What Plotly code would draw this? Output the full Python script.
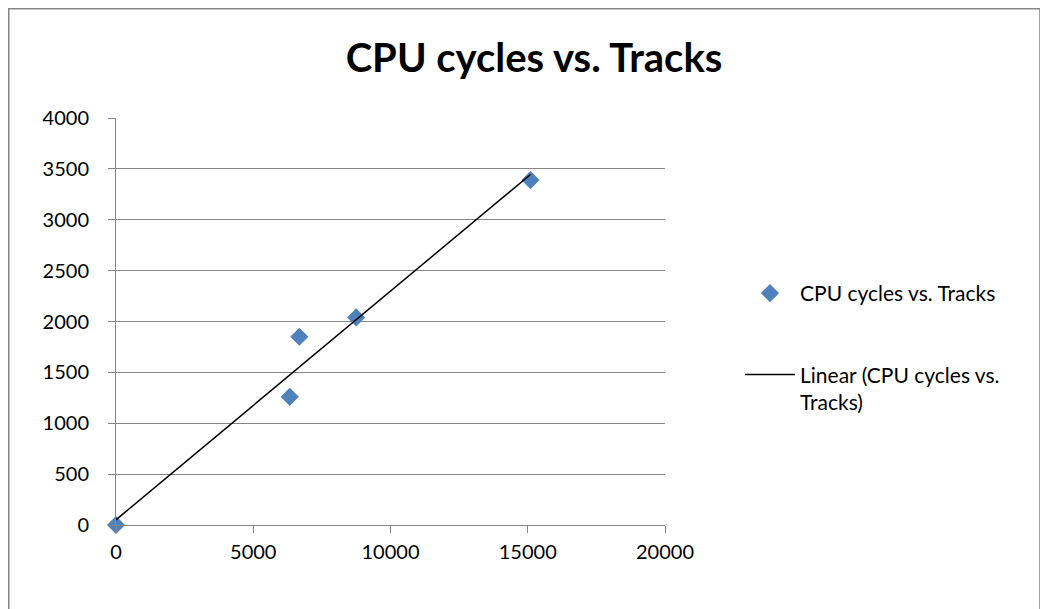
import numpy as np
import plotly.graph_objects as go

# Data
tracks = [0, 6330, 6680, 8750, 15100]
cpu_cycles = [0, 1260, 1850, 2040, 3390]
series_name = "CPU cycles vs. Tracks"
trend_name = "Linear (CPU cycles vs.<br>Tracks)"
x_ticks = [0, 5000, 10000, 15000, 20000]
y_ticks = [0, 500, 1000, 1500, 2000, 2500, 3000, 3500, 4000]

# Linear trendline (least squares), drawn over the data range
slope, intercept = np.polyfit(tracks, cpu_cycles, 1)
trend_x = [min(tracks), max(tracks)]
trend_y = [slope * v + intercept for v in trend_x]

FONT = "Lato"
GRID = "#868686"

fig = go.Figure()
fig.add_trace(go.Scatter(
    x=tracks, y=cpu_cycles, mode="markers", name=series_name,
    marker=dict(symbol="diamond", size=14, color="#4F81BD"),
    legendgroup="a", cliponaxis=False,
))
fig.add_trace(go.Scatter(
    x=trend_x, y=trend_y, mode="lines", name=trend_name,
    line=dict(color="black", width=1.5),
    legendgroup="b",
))

# page offset of 8px (body margin) is folded into these figure coordinates
W, H = 1040, 601
L, T = 108, 110
PR, PB = 657, 517
R, B = W - PR, H - PB
pw, ph = PR - L, PB - T

def px(xp):
    return (xp - L) / pw

def py(yp):
    return (PB - yp) / ph

fig.update_layout(
    width=W, height=H,
    margin=dict(l=L, r=R, t=T, b=B, autoexpand=False),
    paper_bgcolor="white", plot_bgcolor="white",
    font=dict(family=FONT, size=20, color="black"),
    title=dict(text="<b>CPU cycles vs. Tracks</b>", x=526 / W, xanchor="center",
               y=1 - 50 / H, yanchor="middle", xref="container", yref="container",
               font=dict(family=FONT, size=40, color="black")),
    showlegend=True,
    legend=dict(x=px(732), xanchor="left", y=py(265), yanchor="top",
                font=dict(family=FONT, size=21), tracegroupgap=51,
                valign="top", itemwidth=50, bgcolor="rgba(0,0,0,0)"),
    shapes=[dict(type="path", xref="paper", yref="paper",
                 path=f"M {px(0.75)},{py(640)} L {px(0.75)},{py(0.75)} L {px(1032)},{py(0.75)} L {px(1032)},{py(640)}",
                 line=dict(color=GRID, width=1.5))],
)
fig.update_xaxes(range=[0, 20000], tickvals=x_ticks, ticktext=[str(v) for v in x_ticks],
                 showgrid=False, showline=True, linecolor=GRID, linewidth=1,
                 ticks="outside", ticklen=7, tickcolor=GRID, zeroline=False,
                 ticklabelstandoff=2, tickfont=dict(family=FONT, size=20))
fig.update_yaxes(range=[0, 4000], tickvals=y_ticks, ticktext=[str(v) for v in y_ticks],
                 showgrid=True, gridcolor=GRID, gridwidth=1,
                 showline=True, linecolor=GRID, linewidth=1,
                 ticks="outside", ticklen=7, tickcolor=GRID, zeroline=False,
                 ticklabelstandoff=15, tickfont=dict(family=FONT, size=20))

fig.write_html("out.html")
